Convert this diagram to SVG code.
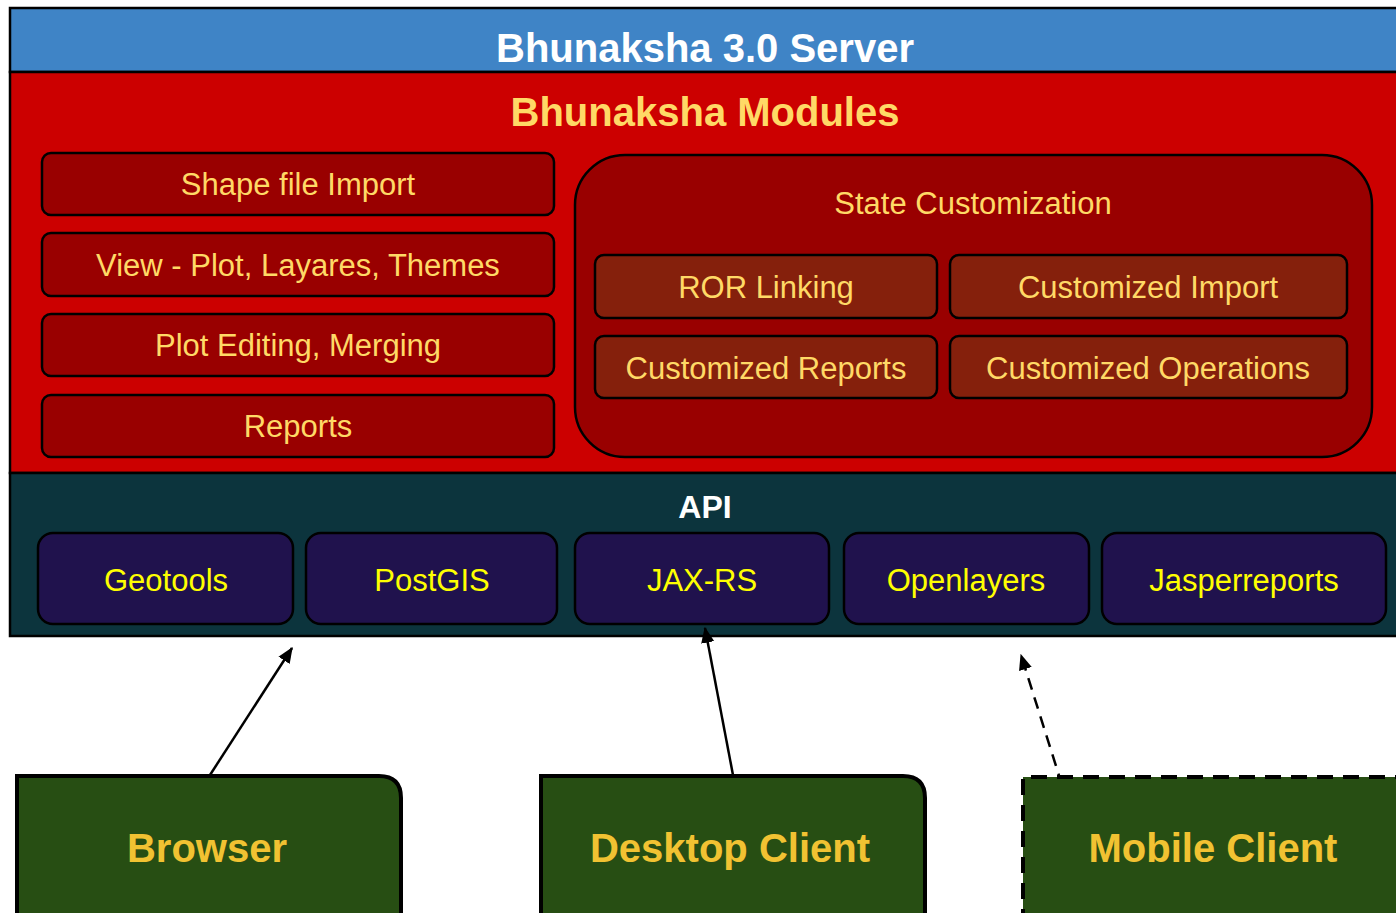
<svg xmlns="http://www.w3.org/2000/svg" width="1396" height="913" viewBox="0 0 1396 913">
<defs>
<style>
.t{font-family:"Liberation Sans",Arial,sans-serif;text-anchor:middle}
.mod{fill:#990000;stroke:#000;stroke-width:2.5}
.sub{fill:#85200c;stroke:#000;stroke-width:2.5}
.api{fill:#20124d;stroke:#000;stroke-width:2.5}
.cl{fill:#274e13;stroke:#000;stroke-width:4}
.mt{font-size:31px;fill:#ffd966}
.at{font-size:31px;fill:#ffff00}
.ct{font-size:40px;font-weight:bold;fill:#f1c232}
.ln{stroke:#000;stroke-width:2.5;fill:none}
</style>
<marker id="a" viewBox="0 0 12 12" refX="11" refY="6" markerWidth="16" markerHeight="16" orient="auto" markerUnits="userSpaceOnUse">
<path d="M0,1 L12,6 L0,11 z" fill="#000"/>
</marker>
</defs>
<rect width="1396" height="913" fill="#fff"/>
<g id="server">
<rect x="10" y="8" width="1400" height="64" fill="#3f84c6" stroke="#000" stroke-width="2.5"/>
<text class="t" x="705" y="62" font-size="40" font-weight="bold" fill="#fff">Bhunaksha 3.0 Server</text>
</g>
<g id="modules">
<rect x="10" y="72" width="1400" height="401" fill="#cc0000" stroke="#000" stroke-width="2.5"/>
<text class="t" x="705" y="126" font-size="40" font-weight="bold" fill="#ffd966">Bhunaksha Modules</text>
</g>
<g id="shape-import"><rect class="mod" x="42" y="153" width="512" height="62" rx="9"/><text class="t mt" x="298" y="195">Shape file Import</text></g>
<g id="view"><rect class="mod" x="42" y="233" width="512" height="63" rx="9"/><text class="t mt" x="298" y="276">View - Plot, Layares, Themes</text></g>
<g id="editing"><rect class="mod" x="42" y="314" width="512" height="62" rx="9"/><text class="t mt" x="298" y="356">Plot Editing, Merging</text></g>
<g id="reports"><rect class="mod" x="42" y="395" width="512" height="62" rx="9"/><text class="t mt" x="298" y="437">Reports</text></g>
<g id="state-customization"><rect class="mod" x="575" y="155" width="797" height="302" rx="50"/><text class="t mt" x="973" y="214">State Customization</text></g>
<g id="ror"><rect class="sub" x="595" y="255" width="342" height="63" rx="9"/><text class="t mt" x="766" y="298">ROR Linking</text></g>
<g id="cust-import"><rect class="sub" x="950" y="255" width="397" height="63" rx="9"/><text class="t mt" x="1148" y="298">Customized Import</text></g>
<g id="cust-reports"><rect class="sub" x="595" y="336" width="342" height="62" rx="9"/><text class="t mt" x="766" y="379">Customized Reports</text></g>
<g id="cust-ops"><rect class="sub" x="950" y="336" width="397" height="62" rx="9"/><text class="t mt" x="1148" y="379">Customized Operations</text></g>
<g id="api">
<rect x="10" y="473" width="1400" height="163" fill="#0c343d" stroke="#000" stroke-width="2.5"/>
<text class="t" x="705" y="518" font-size="32" font-weight="bold" fill="#fff">API</text>
</g>
<g id="geotools"><rect class="api" x="38" y="533" width="255" height="91" rx="15"/><text class="t at" x="166" y="591">Geotools</text></g>
<g id="postgis"><rect class="api" x="306" y="533" width="251" height="91" rx="15"/><text class="t at" x="432" y="591">PostGIS</text></g>
<g id="jaxrs"><rect class="api" x="575" y="533" width="254" height="91" rx="15"/><text class="t at" x="702" y="591">JAX-RS</text></g>
<g id="openlayers"><rect class="api" x="844" y="533" width="245" height="91" rx="15"/><text class="t at" x="966" y="591">Openlayers</text></g>
<g id="jasperreports"><rect class="api" x="1102" y="533" width="284" height="91" rx="15"/><text class="t at" x="1244" y="591">Jasperreports</text></g>
<g id="connectors">
<line class="ln" x1="210" y1="775" x2="292" y2="648" marker-end="url(#a)"/>
<line class="ln" x1="733" y1="775" x2="705" y2="628" marker-end="url(#a)"/>
<line class="ln" x1="1062" y1="785" x2="1021" y2="655" stroke-dasharray="12,8" marker-end="url(#a)"/>
</g>
<g id="browser"><path class="cl" d="M17,925 L17,776 L379,776 Q401,776 401,798 L401,925 Z"/><text class="t ct" x="207" y="862">Browser</text></g>
<g id="desktop"><path class="cl" d="M541,925 L541,776 L903,776 Q925,776 925,798 L925,925 Z"/><text class="t ct" x="730" y="862">Desktop Client</text></g>
<g id="mobile"><path class="cl" d="M1023,925 L1023,777 L1420,777 L1420,925 Z" stroke-dasharray="16,10"/><text class="t ct" x="1213" y="862">Mobile Client</text></g>
</svg>
